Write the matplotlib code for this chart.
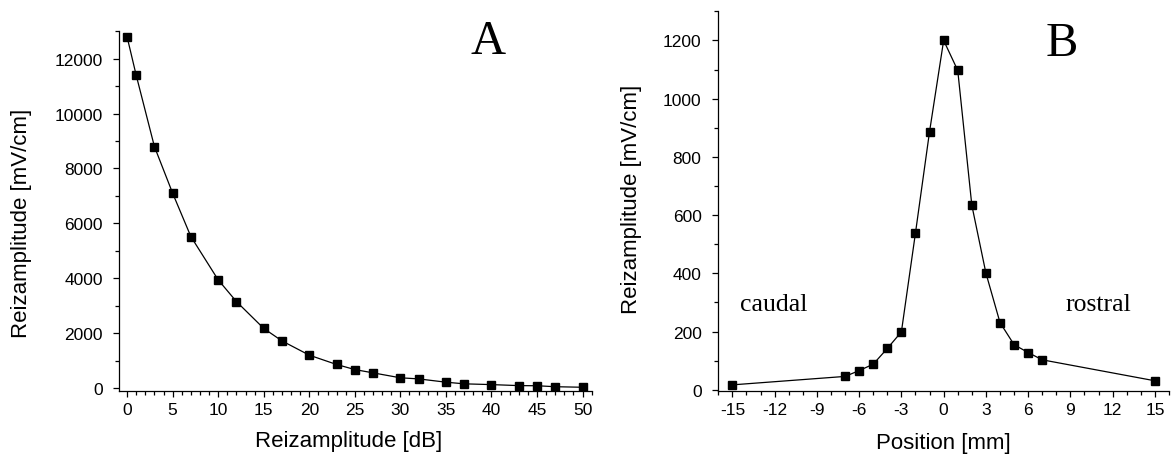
import matplotlib
matplotlib.use("Agg")
import matplotlib.pyplot as plt
from matplotlib.ticker import MultipleLocator

# panel A: stimulus amplitude vs attenuation
db_vals = [0, 1, 3, 5, 7, 10, 12, 15, 17, 20, 23, 25, 27, 30, 32, 35, 37, 40, 43, 45, 47, 50]
amp_a = [12800, 11400, 8800, 7100, 5520, 3940, 3150, 2170, 1715, 1195, 855, 670, 550, 370,
         330, 210, 150, 122, 85, 80, 45, 25]

# panel B: stimulus amplitude vs position
pos_mm = [-15, -7, -6, -5, -4, -3, -2, -1, 0, 1, 2, 3, 4, 5, 6, 7, 15]
amp_b = [17, 46, 66, 88, 142, 199, 539, 887, 1200, 1097, 634, 401, 231, 155, 128, 103, 31]

plt.rcParams['font.family'] = ['Liberation Sans', 'DejaVu Sans']
plt.rcParams['axes.unicode_minus'] = False
serif = ['Liberation Serif', 'DejaVu Serif']

fig = plt.figure(figsize=(11.71, 4.6), dpi=100)
ax1 = fig.add_axes([0.1019, 0.1485, 0.4034, 0.7813])
ax2 = fig.add_axes([0.6134, 0.1485, 0.3849, 0.8248])


def style(ax):
    for s in ['top', 'right']:
        ax.spines[s].set_visible(False)
    for s in ['left', 'bottom']:
        ax.spines[s].set_linewidth(0.9)
    ax.tick_params(which='major', direction='out', length=4.5, width=0.9, labelsize=12.5)
    ax.tick_params(which='minor', direction='out', length=2.7, width=0.9)
    ax.tick_params(axis='y', which='major', pad=7.5)
    ax.tick_params(axis='x', which='major', pad=4)


ax1.plot(db_vals, amp_a, color='black', lw=0.9, marker='s', ms=5.2)
ax1.set_xlim(-0.85, 51)
ax1.set_ylim(-100, 13000)
ax1.xaxis.set_major_locator(MultipleLocator(5))
ax1.xaxis.set_minor_locator(MultipleLocator(1))
ax1.yaxis.set_major_locator(MultipleLocator(2000))
ax1.yaxis.set_minor_locator(MultipleLocator(1000))
style(ax1)
ax1.set_xlabel('Reizamplitude [dB]', fontsize=16)
ax1.set_ylabel('Reizamplitude [mV/cm]', fontsize=16)
ax1.xaxis.set_label_coords(0.485, -0.108)
ax1.yaxis.set_label_coords(-0.185, 0.467)
ax1.text(39.6, 12628, 'A', family=serif, fontsize=35, ha='center', va='center')

ax2.plot(pos_mm, amp_b, color='black', lw=0.9, marker='s', ms=5.2)
ax2.set_xlim(-16, 16)
ax2.set_ylim(-3, 1300)
ax2.xaxis.set_major_locator(MultipleLocator(3))
ax2.xaxis.set_minor_locator(MultipleLocator(1))
ax2.yaxis.set_major_locator(MultipleLocator(200))
ax2.yaxis.set_minor_locator(MultipleLocator(100))
style(ax2)
ax2.set_xlabel('Position [mm]', fontsize=16)
ax2.set_ylabel('Reizamplitude [mV/cm]', fontsize=16)
ax2.xaxis.set_label_coords(0.5, -0.108)
ax2.yaxis.set_label_coords(-0.169, 0.508)
ax2.text(8.35, 1191, 'B', family=serif, fontsize=35, ha='center', va='center')
ax2.text(-12.08, 295, 'caudal', family=serif, fontsize=18.5, ha='center', va='center')
ax2.text(11.0, 295, 'rostral', family=serif, fontsize=18.5, ha='center', va='center')

fig.savefig('out.png', dpi=100)
